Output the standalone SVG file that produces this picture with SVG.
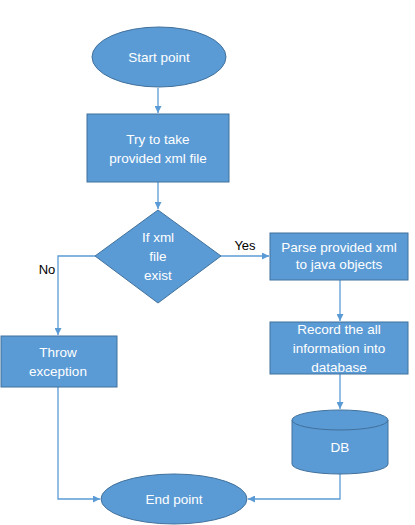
<svg xmlns="http://www.w3.org/2000/svg" width="415" height="525" viewBox="0 0 415 525">
<style>
.s{fill:#5B9BD5;stroke:#41719C;stroke-width:1}
.t{fill:#fff;font-family:"Liberation Sans",Arial,sans-serif;font-size:13.5px;text-anchor:middle}
.l{fill:#000;font-family:"Liberation Sans",Arial,sans-serif;font-size:13px;text-anchor:middle}
.c{fill:none;stroke:#5B9BD5;stroke-width:1.3}
</style>
<defs>
<marker id="a" viewBox="0 0 10 10" refX="10" refY="5" markerWidth="7" markerHeight="7" markerUnits="userSpaceOnUse" orient="auto"><path d="M0,0L10,5L0,10z" fill="#5B9BD5"/></marker>
</defs>
<rect width="415" height="525" fill="#fff"/>
<g id="connectors">
<path class="c" d="M158,88V113" marker-end="url(#a)"/>
<path class="c" d="M158,182V209" marker-end="url(#a)"/>
<path class="c" d="M95,256H58V335" marker-end="url(#a)"/>
<path class="c" d="M221,256H269" marker-end="url(#a)"/>
<path class="c" d="M340,280V321" marker-end="url(#a)"/>
<path class="c" d="M340,374V409" marker-end="url(#a)"/>
<path class="c" d="M58,387V499H100" marker-end="url(#a)"/>
<path class="c" d="M340,474V499H248" marker-end="url(#a)"/>
</g>
<g id="start"><ellipse class="s" cx="159" cy="57" rx="67" ry="30"/><text class="t" x="159" y="62">Start point</text></g>
<g id="take"><rect class="s" x="87" y="114" width="142" height="68"/><text class="t" x="158" y="144">Try to take</text><text class="t" x="158" y="163">provided xml file</text></g>
<g id="decision"><path class="s" d="M158,210L221,256L158,303L95,256z"/><text class="t" x="158" y="242">If xml</text><text class="t" x="158" y="261">file</text><text class="t" x="158" y="280">exist</text></g>
<text class="l" x="47" y="274">No</text>
<text class="l" x="245" y="250">Yes</text>
<g id="throw"><rect class="s" x="1" y="336" width="116" height="51"/><text class="t" x="58" y="357">Throw</text><text class="t" x="58" y="376">exception</text></g>
<g id="parse"><rect class="s" x="270" y="233" width="138" height="47"/><text class="t" x="339" y="252">Parse provided xml</text><text class="t" x="339" y="269">to java objects</text></g>
<g id="record"><rect class="s" x="270" y="322" width="138" height="52"/><text class="t" x="339" y="334">Record the all</text><text class="t" x="339" y="353">information into</text><text class="t" x="339" y="372">database</text></g>
<g id="db"><path class="s" d="M292,420V464A48,10 0 0 0 388,464V420"/><ellipse class="s" cx="340" cy="420" rx="48" ry="10"/><text class="t" x="340" y="452">DB</text></g>
<g id="end"><ellipse class="s" cx="174" cy="499" rx="73" ry="25"/><text class="t" x="174" y="504">End point</text></g>
</svg>
